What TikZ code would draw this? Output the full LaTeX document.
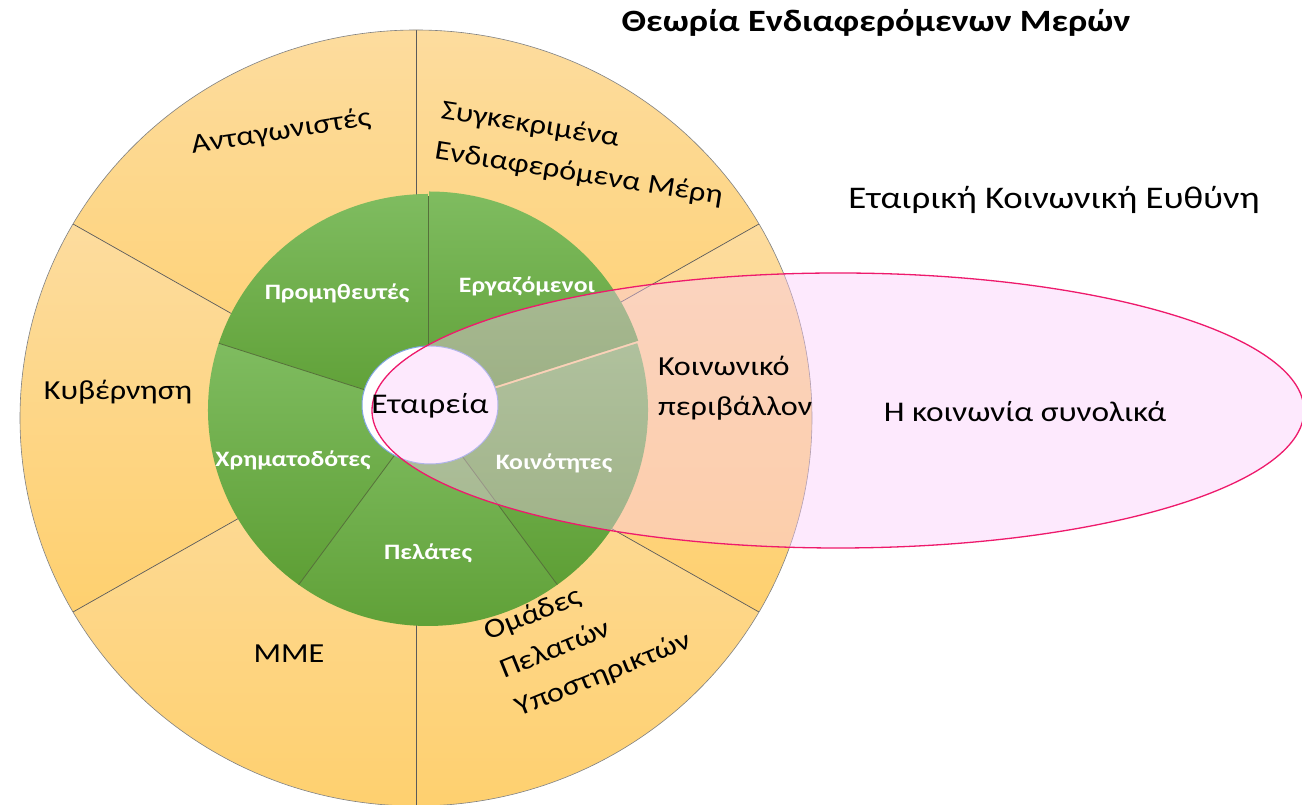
\documentclass[tikz,border=0pt]{standalone}
\usepackage{fontspec}
\setmainfont{Carlito}[FakeStretch=1.17]
\usetikzlibrary{shapes.geometric}
\definecolor{ringtop}{HTML}{FDDC9E}
\definecolor{ringbot}{HTML}{FED06F}
\definecolor{greentop}{HTML}{7FBC60}
\definecolor{greenbot}{HTML}{5E9F35}
\definecolor{pinkfill}{HTML}{FAC9FA}
\definecolor{pinkline}{HTML}{EE1A6C}
\definecolor{blueline}{HTML}{7FA6E0}
\definecolor{divline}{HTML}{5A5A5A}
\definecolor{gdiv}{HTML}{55703A}
\begin{document}
\begin{tikzpicture}[x=1pt,y=1pt,
  ringsec/.style={top color=ringtop,bottom color=ringbot,draw=none},
  greensec/.style={top color=greentop,bottom color=greenbot,draw=none},
  ringlbl/.style={font=\fontsize{27.5}{41}\selectfont,text=black,inner sep=0pt,align=left},
  greenlbl/.style={font=\bfseries\fontsize{22}{26}\selectfont,text=white,inner sep=0pt},
  plainlbl/.style={font=\fontsize{28.5}{34}\selectfont,text=black,inner sep=0pt}]
\useasboundingbox (0,0) rectangle (1302,805);
\clip (0,0) rectangle (1302,805);
\fill[white] (0,0) rectangle (1302,805);
\coordinate (O) at (416,387);
\coordinate (G) at (428,395);
% outer ring sectors
\foreach \a/\b in {30/90,90/150,150/210,210/270,270/330,330/390}{
  \path[ringsec] (O) -- ++(\a:396 and 388) arc[start angle=\a,end angle=\b,x radius=396,y radius=388] -- cycle;
}
\foreach \a in {30,90,150,210,270,330}{
  \draw[divline,line width=0.7pt] (O) -- ++(\a:396 and 388);
}
\draw[gray,line width=0.6pt] (O) ellipse[x radius=396,y radius=388];
% green sectors
\foreach \a/\b in {90/162,162/234,234/306,306/378}{
  \path[greensec] (G) -- ++(\a:220 and 216) arc[start angle=\a,end angle=\b,x radius=220,y radius=216] -- cycle;
}
\path[greensec] ([shift={(1,2.5)}]G) -- ++(18:220 and 216) arc[start angle=18,end angle=90,x radius=220,y radius=216] -- cycle;
\foreach \a in {162,234,306}{
  \draw[gdiv,line width=0.8pt] (G) -- ++(\a:220 and 216);
}
\draw[gdiv,line width=0.8pt] (G) -- ++(90:218 and 214);
% company ellipse
\node[ellipse,minimum width=136,minimum height=118,inner sep=0pt,fill=white,draw=blueline,line width=1pt] (comp) at (430,400) {};
% CSR ellipse
\node[ellipse,minimum width=932,minimum height=275,inner sep=0pt,fill=pinkfill,fill opacity=0.4,draw=pinkline,line width=1.3pt] (csr) at (838,394.5) {};
% labels
\node[font=\bfseries\fontsize{31}{36}\selectfont,inner sep=0pt] (title) at (876,782) {Θεωρία Ενδιαφερόμενων Μερών};
\node[font=\fontsize{31.5}{36}\selectfont,inner sep=0pt] (csrtitle) at (1054,605) {Εταιρική Κοινωνική Ευθύνη};
\node[plainlbl] (society) at (1025,393) {Η κοινωνία συνολικά};
\node[plainlbl] (comptext) at (430,399) {Εταιρεία};
\node[ringlbl] (gov) at (118,413) {Κυβέρνηση};
\node[ringlbl] (media) at (289,151) {ΜΜΕ};
\node[ringlbl,anchor=west,font=\fontsize{27.5}{40}\selectfont] (social) at (658,417) {Κοινωνικό\\περιβάλλον};
\node[ringlbl,rotate=9] (comp2) at (281,673) {Ανταγωνιστές};
\node[ringlbl,rotate=-9] (spec) at (582,651) {Συγκεκριμένα\\Ενδιαφερόμενα Μέρη};
\node[ringlbl,rotate=22] (groups) at (588,168) {Ομάδες\\Πελατών\\Υποστηρικτών};
\node[greenlbl] (supp) at (337,512) {Προμηθευτές};
\node[greenlbl] (empl) at (527,519) {Εργαζόμενοι};
\node[greenlbl] (fin) at (293,345) {Χρηματοδότες};
\node[greenlbl] (cust) at (428,252) {Πελάτες};
\node[greenlbl] (comm) at (554,342) {Κοινότητες};
\end{tikzpicture}
\end{document}
